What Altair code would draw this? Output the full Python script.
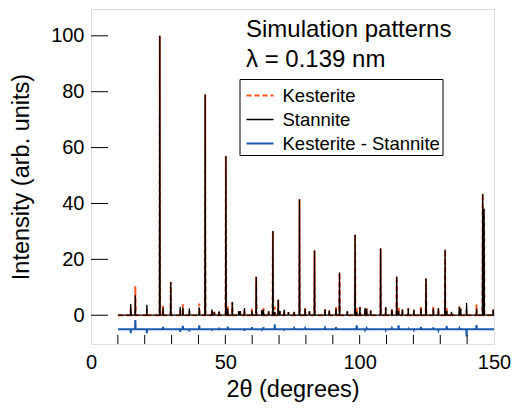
import altair as alt
import pandas as pd

# ---- data ----
series_names = ["Kesterite", "Stannite", "Kesterite - Stannite"]
series_colors = ["#F4511E", "#000000", "#1A5BB0"]

peak_pos = [14.8, 16.5, 20.8, 25.6, 26.8, 29.7, 33.2, 34.2, 36.6, 40.3,
            42.5, 45.0, 45.9, 47.7, 50.2, 50.9, 52.6, 55.0, 55.5, 57.1,
            59.9, 61.5, 63.6, 64.2, 66.1, 67.7, 68.4, 69.7, 70.3, 71.9,
            73.5, 75.6, 77.6, 79.7, 81.3, 83.2, 87.1, 88.7, 91.2, 92.5,
            95.4, 98.3, 98.9, 100.1, 102.0, 102.6, 104.1, 107.8, 109.7, 112.0,
            113.8, 114.5, 115.9, 118.1, 120.2, 122.8, 124.7, 127.4, 129.3, 131.8,
            132.4, 134.2, 137.1, 137.6, 139.8, 143.5, 145.8, 146.3, 149.7]
kesterite = [2.6, 10.4, 2.3, 100.0, 3.4, 11.9, 1.9, 3.9, 1.6, 4.2,
             79.0, 1.8, 1.2, 1.6, 57.0, 3.2, 4.7, 1.4, 1.5, 2.0,
             2.4, 13.8, 1.7, 2.6, 1.4, 30.1, 2.9, 5.6, 1.5, 1.8,
             1.1, 1.5, 41.5, 2.6, 1.4, 23.2, 2.4, 1.7, 3.0, 15.3,
             1.4, 28.9, 2.6, 2.9, 2.3, 2.5, 1.7, 23.9, 2.6, 2.3,
             13.9, 2.9, 2.0, 2.6, 1.7, 3.2, 13.1, 3.0, 2.2, 23.5,
             2.6, 1.2, 3.2, 2.4, 1.8, 3.8, 43.5, 38.1, 2.0]
stannite = [4.0, 7.1, 3.7, 100.0, 2.6, 11.9, 2.9, 2.7, 2.4, 2.8,
            79.0, 2.0, 1.2, 1.4, 57.0, 2.3, 4.7, 1.4, 1.5, 2.6,
            1.7, 13.8, 1.9, 1.9, 1.4, 30.1, 1.2, 5.6, 1.5, 2.0,
            1.1, 1.2, 41.5, 2.3, 1.4, 23.2, 2.0, 1.7, 2.3, 15.3,
            1.4, 28.9, 1.2, 2.9, 2.6, 2.2, 1.7, 23.9, 2.9, 2.0,
            13.9, 1.5, 2.0, 2.4, 2.0, 2.4, 13.1, 2.4, 2.6, 23.5,
            1.5, 1.2, 2.9, 2.4, 4.4, 2.3, 43.5, 38.1, 2.0]
scan_start, scan_end = 10, 150
diff_offset = -5

x_label_values = [0, 50, 100, 150]
x_tick_values = [10, 20, 30, 40, 50, 60, 70, 80, 90, 100, 110, 120, 130, 140]
y_tick_values = [0, 20, 40, 60, 80, 100]
x_domain = [0, 150]
y_domain = [-10.3, 109.6]

title_line1 = "Simulation patterns"
title_line2 = "λ = 0.139 nm"
x_title = "2θ (degrees)"
y_title = "Intensity (arb. units)"

FONT = "Liberation Sans"
W, H = 403, 335
HALF = 0.12


def stick_profile(pos, heights):
    xs, ys = [scan_start], [0.0]
    for p, h in zip(pos, heights):
        xs += [p - HALF, p, p + HALF]
        ys += [0.0, h, 0.0]
    xs.append(scan_end)
    ys.append(0.0)
    return xs, ys


kx, ky = stick_profile(peak_pos, kesterite)
sx, sy = stick_profile(peak_pos, stannite)
df_k = pd.DataFrame({"x": kx, "y": ky, "o": range(len(kx)), "series": series_names[0]})
df_s = pd.DataFrame({"x": sx, "y": sy, "o": range(len(sx)), "series": series_names[1]})
df_d = pd.DataFrame({"x": kx, "y": [a - b + diff_offset for a, b in zip(ky, sy)],
                     "o": range(len(kx)), "series": series_names[2]})

xscale = alt.Scale(domain=x_domain, nice=False, zero=False)
yscale = alt.Scale(domain=y_domain, nice=False, zero=False)

legend = alt.Legend(
    title=None, orient="none", legendX=148.5, legendY=70,
    padding=2, rowPadding=-8, labelFontSize=18.5, labelFont=FONT,
    labelColor="black", symbolType="stroke", symbolSize=729, labelOffset=8,
    symbolOffset=4, strokeColor="black", fillColor="white", labelLimit=0,
)
color_scale = alt.Scale(domain=series_names, range=series_colors)
dash_scale = alt.Scale(domain=series_names, range=[[5, 3], [1, 0], [1, 0]])
width_scale = alt.Scale(type="ordinal", domain=series_names, range=[2.0, 1.3, 2.0])


def series_layer(df, main=False):
    if main:
        xenc = alt.X("x:Q", scale=xscale, title=x_title,
                     axis=alt.Axis(values=x_label_values, ticks=False, domain=False,
                                   grid=False, labelFlush=False, labelPadding=8,
                                   labelFontSize=20, labelFont=FONT, labelColor="black",
                                   titleFontSize=23.5, titleFont=FONT, titleFontWeight="normal",
                                   titleColor="black", titlePadding=5))
        yenc = alt.Y("y:Q", scale=yscale, title=y_title,
                     axis=alt.Axis(values=y_tick_values, ticks=False, domain=False,
                                   grid=False, labelFlush=False, labelPadding=7,
                                   labelFontSize=20, labelFont=FONT, labelColor="black",
                                   titleFontSize=23.5, titleFont=FONT, titleFontWeight="normal",
                                   titleColor="black", titlePadding=17))
    else:
        xenc = alt.X("x:Q", scale=xscale)
        yenc = alt.Y("y:Q", scale=yscale)
    return alt.Chart(df).mark_line(clip=True).encode(
        x=xenc, y=yenc, order="o:Q",
        color=alt.Color("series:N", scale=color_scale, legend=legend),
        strokeDash=alt.StrokeDash("series:N", scale=dash_scale, legend=legend),
        strokeWidth=alt.StrokeWidth("series:N", scale=width_scale, legend=legend),
    )


k_layer = series_layer(df_k, main=True)
s_layer = series_layer(df_s)
d_layer = series_layer(df_d)

y_ticks = alt.Chart(pd.DataFrame({"y": y_tick_values})).mark_rule(
    color="black", strokeWidth=1).encode(
    y=alt.Y("y:Q", scale=yscale), x=alt.value(0), x2=alt.value(17))
x_ticks = alt.Chart(pd.DataFrame({"x": x_tick_values})).mark_rule(
    color="black", strokeWidth=1).encode(
    x=alt.X("x:Q", scale=xscale), y=alt.value(H), y2=alt.value(H - 9))

t1 = alt.Chart(pd.DataFrame({"t": [title_line1]})).mark_text(
    align="left", baseline="alphabetic", font=FONT, fontSize=24, color="black").encode(
    text="t:N", x=alt.value(155), y=alt.value(28))
t2 = alt.Chart(pd.DataFrame({"t": [title_line2]})).mark_text(
    align="left", baseline="alphabetic", font=FONT, fontSize=24, color="black").encode(
    text="t:N", x=alt.value(155), y=alt.value(57.5))

chart = alt.layer(k_layer, s_layer, d_layer, y_ticks, x_ticks, t1, t2).properties(
    width=W, height=H,
    autosize=alt.AutoSizeParams(type="none"),
    padding={"left": 83, "top": 1, "right": 20, "bottom": 62},
).configure_view(stroke="#111111", strokeWidth=1.2).configure(background="white")

chart.save("out.html", embed_options={"renderer": "svg", "actions": False})
